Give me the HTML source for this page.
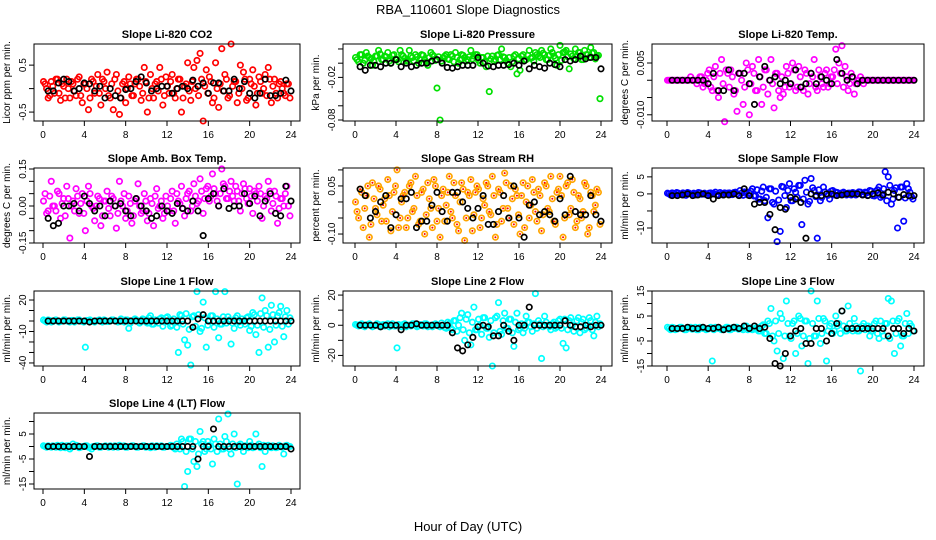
<!DOCTYPE html>
<html><head><meta charset="utf-8"><style>
html,body{margin:0;padding:0;background:#fff;}
svg{display:block;font-family:"Liberation Sans",sans-serif;}
</style></head><body>
<svg id="chart" width="936" height="540" viewBox="0 0 936 540" xmlns="http://www.w3.org/2000/svg">
<rect width="936" height="540" fill="#fff"/>
<text x="468" y="14" text-anchor="middle" font-size="13">RBA_110601  Slope Diagnostics</text>
<text x="468" y="531" text-anchor="middle" font-size="13">Hour of Day (UTC)</text>
</svg>
<script>
const hoursA=[0.2,0.5,0.8,1.1,1.4,1.7,2.0,2.3,2.6,2.9,3.2,3.5,3.8,4.1,4.4,4.7,5.0,5.3,5.6,5.9,6.2,6.5,6.8,7.1,7.4,7.7,8.0,8.3,8.6,8.9,9.2,9.5,9.8,10.1,10.4,10.7,11.0,11.3,11.6,11.9,12.2,12.5,12.8,13.1,13.4,13.7,14.0,14.3,14.6,14.9,15.2,15.5,15.8,16.1,16.4,16.7,17.0,17.3,17.6,17.9,18.2,18.5,18.8,19.1,19.4,19.7,20.0,20.3,20.6,20.9,21.2,21.5,21.8,22.1,22.4,22.7,23.0,23.3,23.6,23.9];
const hoursB=[0.05,0.35,0.65,0.95,1.25,1.55,1.85,2.15,2.45,2.75,3.05,3.35,3.65,3.95,4.25,4.55,4.85,5.15,5.45,5.75,6.05,6.35,6.65,6.95,7.25,7.55,7.85,8.15,8.45,8.75,9.05,9.35,9.65,9.95,10.25,10.55,10.85,11.15,11.45,11.75,12.05,12.35,12.65,12.95,13.25,13.55,13.85,14.15,14.45,14.75,15.05,15.35,15.65,15.95,16.25,16.55,16.85,17.15,17.45,17.75,18.05,18.35,18.65,18.95,19.25,19.55,19.85,20.15,20.45,20.75,21.05,21.35,21.65,21.95,22.25,22.55,22.85,23.15,23.45,23.75];
const hoursK=[0.5,1,1.5,2,2.5,3,3.5,4,4.5,5,5.5,6,6.5,7,7.5,8,8.5,9,9.5,10,10.5,11,11.5,12,12.5,13,13.5,14,14.5,15,15.5,16,16.5,17,17.5,18,18.5,19,19.5,20,20.5,21,21.5,22,22.5,23,23.5,24];
const xTicks=[0,4,8,12,16,20,24];

const co2Vals=[0.1,-0.2,0.15,-0.1,0.2,-0.25,0.05,0.2,-0.2,0.1,-0.15,0.25,-0.3,0.1,-0.45,0.2,-0.1,0.3,-0.35,0.15,0.35,-0.2,-0.45,0.3,-0.55,0.1,-0.3,0.25,-0.15,0.1,0.2,-0.25,0.45,-0.5,0.3,-0.2,0.15,0.45,-0.35,0.25,-0.1,0.3,-0.2,0.2,-0.5,0.05,0.55,-0.25,0.45,0.6,0.75,-0.69,0.4,0.25,-0.3,0.55,-0.4,0.85,0.3,-0.2,0.95,0.15,-0.3,0.5,0.35,-0.25,0.2,0.4,-0.35,0.25,-0.1,0.3,0.45,-0.3,0.2,-0.2,0.15,-0.1,0.1,-0.2];
const co2Core=[0.15,0.0,-0.15,0.05,0.2,-0.1,0.1,-0.2,0.0,0.15,-0.05,0.2,-0.15,0.1,0.0,-0.2,0.15,0.05,-0.1,0.2,0.0,-0.15,0.1,0.2,-0.05,-0.2,0.15,0.0,0.1,-0.15,0.2,0.05,-0.1,0.15,-0.2,0.0,0.1,-0.05,0.2,-0.15,0.05,0.15,-0.1,0.0,0.2,-0.2,0.1,-0.05,0.15,0.0,-0.15,0.2,0.05,-0.1,0.15,-0.2,0.0,0.1,-0.05,0.2,-0.15,0.05,0.15,-0.1,0.0,0.2,-0.2,0.1,0.05,-0.1,0.15,0.0,-0.15,0.2,0.05,-0.1,0.1,0.0,-0.15,0.1];
const co2Black=[-0.05,-0.05,0.12,0.2,0.15,-0.05,0.0,0.12,0.1,-0.05,0.05,-0.2,0.0,-0.15,-0.2,-0.02,0.0,0.15,0.25,0.12,-0.05,0.0,0.05,0.05,-0.1,0.0,0.05,0.0,0.18,0.05,0.12,-0.1,0.12,0.12,-0.05,-0.05,0.2,0.0,0.15,-0.1,-0.2,-0.1,0.2,-0.15,-0.15,-0.1,0.18,-0.05];
const presVals=[0.005,0.012,0.0,0.015,0.008,-0.003,0.01,0.018,0.005,0.01,0.015,0.0,0.012,0.005,0.018,0.01,0.003,0.018,0.008,0.012,0.0,0.012,0.005,-0.003,0.015,0.01,-0.035,-0.08,0.008,0.012,0.005,0.01,0.015,0.0,0.012,0.008,0.005,0.018,0.01,0.012,0.0,0.008,-0.005,-0.04,0.01,0.005,0.012,0.02,0.008,0.0,-0.005,0.01,-0.015,-0.01,0.012,0.005,0.018,0.008,0.015,0.01,0.018,0.012,0.005,0.02,0.01,-0.003,0.025,0.015,0.018,-0.008,0.01,0.02,0.015,0.005,0.018,0.012,0.022,0.015,0.01,-0.05];
const presCore=[0.008,0.002,0.012,0.004,0.01,0.006,0.002,0.01,0.013,0.005,0.009,0.003,0.011,0.006,0.002,0.012,0.007,0.004,0.01,0.003,0.009,0.005,0.011,0.002,0.008,0.012,0.004,0.009,0.003,0.01,0.006,0.012,0.002,0.008,0.005,0.011,0.003,0.009,0.006,0.012,0.004,0.008,0.002,0.01,0.006,0.003,0.011,0.005,0.009,0.004,0.008,0.002,0.012,0.006,0.01,0.004,0.011,0.007,0.003,0.012,0.008,0.014,0.005,0.011,0.015,0.007,0.012,0.004,0.016,0.009,0.013,0.006,0.01,0.015,0.005,0.012,0.008,0.014,0.006,0.011];
const presBlack=[-0.005,-0.01,-0.003,-0.003,-0.005,0.0,0.0,0.005,-0.005,0.0,-0.005,-0.003,0.0,0.0,0.003,0.005,0.0,-0.006,-0.007,-0.005,-0.003,-0.003,-0.003,0.008,0.0,-0.004,-0.005,-0.003,-0.003,-0.002,0.0,-0.003,0.003,-0.008,-0.003,-0.005,-0.007,0.0,-0.002,-0.005,0.005,0.003,0.005,0.01,0.006,0.008,0.008,-0.008];
const tempVals=[0,0,0,0,0,0,0,0.001,0,-0.001,0.001,-0.002,0.0,0.003,-0.003,0.004,-0.005,0.006,-0.012,0.002,0.003,-0.004,-0.009,0.002,-0.007,0.005,-0.01,0.004,-0.003,0.006,-0.007,0.003,-0.004,0.006,-0.008,0.002,-0.005,-0.004,0.004,-0.002,0.005,-0.003,0.004,-0.002,0.003,-0.004,0.002,0.006,-0.003,0.001,-0.002,0.003,-0.001,0.001,0.009,0.005,0.01,0.004,-0.003,0.002,-0.004,0.0,0.001,-0.001,0,0,0,0,0,0,0,0,0,0,0,0,0,0,0,0];
const tempCore=[0,0,0,0,0,0,0,0,0,0,0,0.001,-0.001,0.002,-0.002,0.001,-0.003,0.002,-0.001,0.003,-0.002,0.001,-0.003,0.002,0.0,-0.002,0.003,-0.001,0.002,-0.003,0.001,-0.002,0.003,0.0,-0.001,0.002,-0.003,0.001,-0.002,0.002,-0.001,0.003,-0.002,0.001,-0.003,0.002,-0.001,0.001,-0.002,0.003,-0.001,0.002,-0.002,0.001,0.003,-0.001,0.002,-0.002,0.001,-0.001,0.001,-0.001,0,0,0,0,0,0,0,0,0,0,0,0,0,0,0,0,0,0];
const tempBlack=[0,0,0,0,0,0,0,-0.001,0.002,-0.003,-0.003,0.003,-0.003,0.002,0.002,-0.001,-0.007,0.001,0.004,0.0,0.001,-0.001,0.0,-0.001,0.003,-0.002,-0.001,0.002,-0.001,0.001,0.0,-0.001,0.006,0.002,0.0,0.001,-0.001,0.0,0,0,0,0,0,0,0,0,0,0];
const ambVals=[0.05,-0.02,0.1,0.0,0.06,-0.05,0.03,0.08,-0.13,0.02,0.07,-0.03,0.05,-0.1,0.08,0.0,-0.06,0.04,-0.08,0.02,0.06,-0.04,0.03,-0.09,0.1,0.0,-0.05,0.04,-0.07,0.02,0.09,-0.03,0.05,-0.06,0.03,-0.08,0.07,0.0,-0.05,0.04,-0.02,0.06,-0.07,0.02,0.08,-0.04,0.05,-0.02,0.09,0.01,0.11,-0.03,0.07,0.02,0.13,0.05,0.0,0.15,0.08,0.03,0.1,0.02,0.06,-0.02,0.09,0.03,0.07,-0.03,0.05,0.08,-0.05,0.04,0.1,-0.02,0.06,-0.07,0.03,0.0,0.08,-0.04];
const ambCore=[0.02,-0.03,0.04,0.0,-0.02,0.05,0.01,-0.04,0.03,0.0,-0.02,0.04,0.01,-0.03,0.02,0.05,-0.01,0.0,0.03,-0.04,0.02,-0.01,0.04,0.0,-0.03,0.02,0.05,-0.02,0.01,-0.04,0.03,0.0,-0.02,0.02,-0.03,0.01,0.04,-0.01,0.02,-0.03,0.0,0.03,-0.02,0.05,0.01,-0.01,0.03,0.06,0.0,0.04,0.02,0.06,0.03,0.08,0.04,0.07,0.02,0.05,0.09,0.03,0.06,0.04,0.08,0.02,0.05,0.07,0.01,0.04,0.06,0.02,0.05,0.0,0.03,0.06,0.01,0.04,-0.01,0.03,0.05,0.0];
const ambBlack=[-0.05,-0.08,-0.07,0.0,0.0,0.01,-0.02,0.04,0.01,-0.02,0.0,-0.04,0.02,0.0,0.01,-0.02,-0.04,0.03,0.0,-0.02,-0.05,-0.04,0.0,-0.02,-0.03,0.01,-0.01,-0.02,0.02,-0.02,-0.12,0.03,0.05,0.0,0.07,-0.01,0.0,0.0,0.05,0.01,0.04,-0.04,0.02,0.05,-0.03,-0.04,0.08,0.02];
const rhVals=[-0.03,0.04,-0.08,0.02,-0.11,0.06,-0.02,0.05,-0.06,0.01,0.07,-0.09,0.03,0.1,-0.05,0.02,-0.08,0.05,-0.03,0.08,-0.07,0.03,-0.1,0.06,-0.02,0.07,-0.06,-0.11,0.04,-0.01,0.08,-0.05,0.02,-0.09,0.06,-0.12,0.03,0.07,-0.04,0.05,-0.08,0.01,0.06,-0.03,0.08,-0.11,0.04,-0.06,0.09,-0.02,0.05,-0.07,0.02,-0.1,0.06,0.0,-0.05,0.07,-0.03,0.04,-0.09,0.06,-0.02,0.08,-0.06,0.03,0.08,-0.11,0.05,-0.04,0.07,-0.08,0.02,-0.05,0.06,-0.1,0.03,-0.03,0.04,-0.07];
const rhCore=[0.0,-0.05,0.03,-0.02,0.05,-0.07,0.01,-0.04,0.04,-0.01,-0.06,0.02,-0.03,0.05,-0.08,0.0,0.03,-0.05,0.06,-0.02,0.02,-0.06,0.04,-0.04,0.01,-0.08,0.05,-0.02,0.02,-0.06,0.03,-0.03,0.06,-0.07,0.0,0.04,-0.05,0.02,-0.09,0.03,0.04,-0.05,-0.01,0.05,-0.04,0.02,-0.07,0.03,-0.02,0.06,-0.05,0.01,0.04,-0.04,0.02,-0.08,0.05,-0.01,0.03,-0.06,0.02,-0.04,0.05,-0.03,0.01,-0.07,0.04,0.02,-0.05,0.06,-0.02,0.03,-0.06,0.01,-0.03,0.05,-0.08,0.02,-0.01,0.03];
const rhBlack=[0.04,0.02,-0.05,-0.03,0.0,0.02,-0.08,-0.04,0.01,0.01,0.03,-0.08,-0.06,-0.06,-0.01,0.03,-0.03,-0.06,0.03,0.03,0.0,-0.02,-0.05,-0.02,0.02,-0.07,-0.07,-0.03,0.02,-0.05,0.05,-0.05,-0.11,-0.01,0.0,-0.04,-0.03,-0.04,-0.06,0.01,-0.04,0.08,-0.03,-0.04,-0.04,0.02,-0.04,-0.06];
const sampVals=[0,0.3,-0.2,0.2,0,-0.3,0.4,0,0.2,-0.2,0.3,0,-0.2,0.2,0,0.5,-0.3,0,0.3,0.2,-0.2,0.4,0,1.0,-0.4,0.5,0.2,1.5,-0.5,-1.5,0.8,-2,-7,1.5,-3,-14,-11,2,-4,3,-2,0.5,2.5,-9,4,-3,4.5,1,-13,-2,2,0,-1.5,1,0.5,-0.2,0.3,0,0.2,-0.3,0.2,0,0.5,-0.2,0.3,1,-0.5,0.8,2,-0.5,6.5,5,-3,1,-10,2,-8,3,0.5,-1.5];
const sampCore=[0.2,-0.3,0.1,0.4,-0.2,0.3,-0.4,0.2,0.0,-0.3,0.4,-0.1,0.2,-0.4,0.3,0.0,-0.2,0.4,-0.3,0.1,0.3,-0.2,0.5,-0.4,0.2,0.6,-0.3,0.8,-0.6,1.2,-1.5,2.0,-1.0,1.5,-2.5,0.8,-1.8,2.2,-0.5,1.0,-2.0,1.5,-1.0,2.5,-1.5,0.5,-2.2,1.8,-0.8,1.2,-1.0,0.6,-0.4,0.8,-0.3,0.4,-0.2,0.5,-0.3,0.2,0.4,-0.3,0.6,-0.2,0.5,-0.4,0.8,-0.6,1.2,-1.0,1.5,-2.0,2.5,-1.5,1.8,-1.0,2.0,-1.2,1.5,-0.8];
const sampBlack=[-0.5,-0.5,-0.3,0,-0.5,-0.3,0,-0.5,-1.5,-0.5,-0.3,-0.3,0,-0.5,1.5,-0.5,-3,-2.5,-2.5,-6,-10.5,-4,-4.5,-1,-1.5,-2.5,-13,0,-0.5,-0.5,0,0,-0.5,-0.3,0,0,0,-0.3,-0.5,0,0.3,-0.3,0.5,0,-1,-0.2,-0.5,-0.5];
const l1Vals=[0,1,-1,0.5,0,-0.5,1,0,-1,0.5,0,1,-0.5,-25,0.5,0,-1,0.5,0,1,-0.5,0,1,0,-0.5,0,1,-7,0,2,-0.5,0,1,-2,5,-3,0,2,-5,3,-1,-4,0,-30,5,-18,-23,-42,5,28,-10,18,-25,0,5,28,-16,-3,28,4,-22,-7,5,-4,0,3,-9,8,-13,-30,22,10,-25,15,-20,5,14,-15,10,3];
const l1Core=[1,-1,0.5,-0.5,1,-1,0,1,-0.5,0.5,-1,1,0,-1,0.5,1,-0.5,0,1,-1,0.5,-0.5,1,0,-1,2,-1,1,-2,0.5,1,-2,2,-1,3,-3,1,-2,3,-1,4,-5,2,-6,6,-3,7,-8,4,-5,6,-7,3,-4,5,-6,2,-3,4,-2,1,-2,3,-1,2,-3,4,-5,6,-4,7,-6,5,-8,6,-4,8,-5,4,-3];
const l1Black=[0,0,0,0,0,0,0,0,-1,0,0,0,0,0,0,0,0,0,0,0,0,0,0,0,0,0,0,0,-6,2,6,0,0,0,0,0,0,0,0,0,0,0,0,0,0,0,0,0];
const l2Vals=[0,0.5,-0.5,0,1,-1,0,0.5,0,-0.5,1,0,-0.5,-15,0,0.5,-1,0,1,0,-0.5,0,1,-1,0,0.5,0,-1,0,-2,1,-3,3,0,8,-10,7,-13,12,-3,0,5,-2,-8,-27,5,15,-6,8,-2,4,-14,8,-2,-5,6,2,-4,21,3,-22,6,0,-3,2,-1,4,-12,-15,3,0,-1,5,2,-3,0,3,-7,6,1];
const l2Core=[0.5,-0.5,1,-1,0.5,0,-0.5,1,-1,0.5,0,-1,1,-0.5,0.5,-1,1,0,-0.5,1,-1,0.5,-0.5,1,0,-1,1,-0.5,1.5,-1.5,2,-2,3,-4,5,-3,4,-5,2,-3,4,-6,5,-2,3,-5,6,-4,3,-2,4,-5,2,-3,1,-2,2,-1,1,-2,1,-1,2,-1,1,-2,3,-2,4,-3,5,-4,3,-5,4,-2,5,-3,2,-1];
const l2Black=[0,0,0,0,-1,0,0,0,-3,0,0,1,0,0,0,0,0,0,-5,-15,-17,-13,-8,-1,0,-1,-7,-7,0,-4,-10,0,0,12,0,0,0,0,0,0,3,0,-1,-1,0,-1,0,0];
const l3Vals=[0,0.5,-0.5,0,0.5,-0.5,0,0.5,0,-0.5,0.5,0,-0.5,0,-13,0.5,0,-0.5,0,0.5,-0.5,0,0.5,0,-0.5,1,0,-0.5,0,-1,1,-2,3,8,-5,-9,6,-12,11,-3,2,-10,5,-7,3,-14,15,-3,11,-6,4,-13,1,-2,5,2,7,-1,9,0,4,-1,-17,2,1,-3,-1,3,-4,-1,2,12,11,-10,3,-7,-3,6,2,-1];
const l3Core=[0.5,-0.5,0.3,-0.3,0.5,0,-0.5,0.3,-0.3,0.5,-0.5,0.3,0,-0.3,0.5,-0.5,0.3,0,-0.3,0.5,-0.5,0.3,0.5,-0.3,0,0.5,-0.5,0.3,-0.3,0.5,-1,1.5,-2,2,-3,3,-2,4,-3,2,-4,3,-2,4,-3,3,-4,2,-3,4,-2,3,-1,2,-1,1,-2,1,-1,2,-1,1,-1,1,-0.5,1,-1,2,-2,3,-3,2,-4,3,-2,4,-3,2,-2,1];
const l3Black=[0,0,0,0.5,0,0,0.5,0,0,0.5,-0.5,0,0.5,0,1,0,1,0,0.5,-4,-14,-15,-10,-3,-1,0,-6,-6,0,0,-5,-2,2,7,0,0,0,0,0,0,0,0,-3,0,0,-2,0,-1];
const l4Vals=[0,0.3,-0.3,0,0.5,-0.5,0,0.3,-1,1,0.5,-0.5,0,0.3,-0.3,-1,0,0.3,-0.3,0,0,0.3,-0.3,0,0.5,0,-0.3,0,0.3,0,-0.3,0,0.3,0,-0.5,0,0.3,0,-0.3,0,0,0.3,-1,0,3,-16,-10,3,-6,-8,6,2,-1,0.5,-7,1,11,-1,4,13,-3,5,-15,1,-2,0.3,2,-0.5,5,1,-8,-2,0.5,-0.5,0,-0.3,0,-3,0.5,0];
const l4Core=[0.3,-0.3,0,0.3,-0.3,0,0.5,-0.5,0.3,-0.3,0,0.3,-0.3,0,0.3,-0.3,0,0.3,-0.3,0,0.3,-0.3,0,0.3,-0.3,0,0.3,-0.3,0,0.3,-0.3,0,0.3,-0.3,0,0.3,-0.3,0,0.3,-0.3,0,0.5,-0.5,1,-1,2,-2,3,-1,2,-3,1,-2,2,-1,3,-2,1,-1,2,-1,1,-0.5,0.5,-0.3,0.3,-0.5,0.5,-0.3,0.3,-0.5,0.5,0,-0.3,0.3,-0.5,0.5,-0.3,0.3,0];
const l4Black=[0,0,0,0,0,0,0,0,-4,0,0,0,0,0,0,0,0,0,0,0,0,0,0,0,0,0,0,0,0,-5,0,0,7,0,0,0,0,0,0,0,0,0,0,0,0,0,0,-1];

const colX=[[34,300,43,291],[343,612,355,601],[652,924,667,914]];
const rowY=[[44,121],[168,243],[291,366],[413,489]];
const panels=[
 {name:'co2',title:'Slope Li-820 CO2',ylab:'Licor ppm per min.',c:0,r:0,min:-0.69,max:0.95,ticks:[-0.5,0,0.5],labels:['-0.5','','0.5'],vals:co2Vals,core:co2Core,black:co2Black,col:'#ff0000'},
 {name:'pressure',title:'Slope Li-820 Pressure',ylab:'kPa per min.',c:1,r:0,min:-0.0814,max:0.027,ticks:[0.02,0,-0.02,-0.04,-0.06,-0.08],labels:['','','-0.02','','','-0.08'],vals:presVals,core:presCore,black:presBlack,col:'#00e000'},
 {name:'temp',title:'Slope Li-820 Temp.',ylab:'degrees C per min.',c:2,r:0,min:-0.0118,max:0.0105,ticks:[0.005,0,-0.005,-0.01],labels:['0.005','','','-0.010'],vals:tempVals,core:tempCore,black:tempBlack,col:'#ff00ff'},
 {name:'amb-box-temp',title:'Slope Amb. Box Temp.',ylab:'degrees C per min.',c:0,r:1,min:-0.15,max:0.154,ticks:[0.15,0.1,0.05,0,-0.05,-0.1,-0.15],labels:['0.15','','','0.00','','','-0.15'],vals:ambVals,core:ambCore,black:ambBlack,col:'#ff00ff'},
 {name:'gas-stream-rh',title:'Slope Gas Stream RH',ylab:'percent per min.',c:1,r:1,min:-0.128,max:0.106,ticks:[0.1,0.05,0,-0.05,-0.1],labels:['','0.05','','','-0.10'],vals:rhVals,core:rhCore,black:rhBlack,col:'#ffa500',dot:'#ff0000'},
 {name:'sample-flow',title:'Slope Sample Flow',ylab:'ml/min per min.',c:2,r:1,min:-14.4,max:7.6,ticks:[5,0,-5,-10],labels:['5','0','','-10'],vals:sampVals,core:sampCore,black:sampBlack,col:'#0000ff'},
 {name:'line1-flow',title:'Slope Line 1 Flow',ylab:'ml/min per min.',c:0,r:2,min:-42.9,max:28.6,ticks:[20,10,0,-10,-20,-30,-40],labels:['20','','','-10','','','-40'],vals:l1Vals,core:l1Core,black:l1Black,col:'#00ffff'},
 {name:'line2-flow',title:'Slope Line 2 Flow',ylab:'ml/min per min.',c:1,r:2,min:-27,max:22.7,ticks:[20,10,0,-10,-20],labels:['20','','0','','-20'],vals:l2Vals,core:l2Core,black:l2Black,col:'#00ffff'},
 {name:'line3-flow',title:'Slope Line 3 Flow',ylab:'ml/min per min.',c:2,r:2,min:-15,max:15,ticks:[15,10,5,0,-5,-10,-15],labels:['15','','5','','-5','','-15'],vals:l3Vals,core:l3Core,black:l3Black,col:'#00ffff'},
 {name:'line4-flow',title:'Slope Line 4 (LT) Flow',ylab:'ml/min per min.',c:0,r:3,min:-17,max:13.4,ticks:[10,5,0,-5,-10,-15],labels:['','5','','-5','','-15'],vals:l4Vals,core:l4Core,black:l4Black,col:'#00ffff'}
];
const NS='http://www.w3.org/2000/svg';
const svg=document.getElementById('chart');
function mk(tag,attrs,parent,txt){const e=document.createElementNS(NS,tag);for(const k in attrs)e.setAttribute(k,attrs[k]);if(txt!==undefined)e.textContent=txt;parent.appendChild(e);return e;}
panels.forEach(p=>{
  const [bl,br,x0,x24]=colX[p.c];const [bt,bb]=rowY[p.r];
  const xs=h=>x0+(h/24)*(x24-x0);
  const ys=v=>bb-(v-p.min)/(p.max-p.min)*(bb-bt);
  const g=mk('g',{},svg);
  
  
  const t=mk('text',{x:(bl+br)/2,y:bt-6,'text-anchor':'middle','font-size':'11','font-weight':'bold'},g,p.title);
  
  
  const yl=mk('text',{transform:`translate(${bl-24},${(bt+bb)/2}) rotate(-90)`,'text-anchor':'middle','font-size':'10'},g,p.ylab);
  
  
  xTicks.forEach(h=>{
    const x=xs(h);
    const tk=mk('line',{x1:x,x2:x,y1:bb,y2:bb+5,stroke:'#000','stroke-width':1},g);
    
    
    const tl=mk('text',{x:x,y:bb+17,'text-anchor':'middle','font-size':'10'},g,String(h));
    
    
  });
  p.ticks.forEach((v,i)=>{
    const y=ys(v);
    const tk=mk('line',{x1:bl-5,x2:bl,y1:y,y2:y,stroke:'#000','stroke-width':1},g);
    
    
    if(p.labels[i]){
      const tl=mk('text',{transform:`translate(${bl-8},${y}) rotate(-90)`,'text-anchor':'middle','font-size':'10'},g,p.labels[i]);
      
      
    }
  });
  const drawColored=(hrs,vals)=>{
    const n=Math.min(hrs.length,vals.length);
    for(let i=0;i<n;i++){
      const c=mk('circle',{cx:xs(hrs[i]),cy:ys(vals[i]),r:2.7,fill:'none',stroke:p.col,'stroke-width':1.7},g);
      
      
      if(p.dot){const d=mk('circle',{cx:xs(hrs[i]),cy:ys(vals[i]),r:1,fill:p.dot},g);
        
        }
    }
  };
  drawColored(hoursB,p.core);
  drawColored(hoursA,p.vals);
  const m=Math.min(hoursK.length,p.black.length);
  for(let i=0;i<m;i++){
    const c=mk('circle',{cx:xs(hoursK[i]),cy:ys(p.black[i]),r:2.7,fill:'none',stroke:'#000','stroke-width':1.7},g);
    
    
  }
  const box=mk('rect',{x:bl,y:bt,width:br-bl,height:bb-bt,fill:'none',stroke:'#000','stroke-width':1},g);
  
  
});
</script>
</body></html>
